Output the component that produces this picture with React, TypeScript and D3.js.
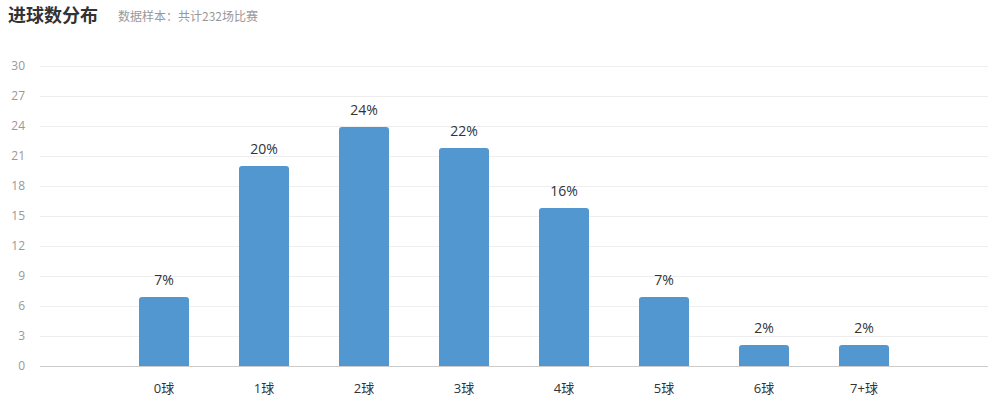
import React from "react";
import * as d3 from "d3";

const categories = ["0球", "1球", "2球", "3球", "4球", "5球", "6球", "7+球"];
const values = [6.9, 20.0, 23.9, 21.8, 15.8, 6.9, 2.1, 2.1];
const valueLabels = ["7%", "20%", "24%", "22%", "16%", "7%", "2%", "2%"];
const yTicks = [0, 3, 6, 9, 12, 15, 18, 21, 24, 27, 30];
const title = "进球数分布";
const subtitle = "数据样本：共计232场比赛";

const W = 995;
const H = 406;
const FONT = "'Noto Sans CJK SC', 'Open Sans', sans-serif";
const NUMFONT = "'Open Sans', 'Noto Sans CJK SC', sans-serif";

export default function App() {
  const x = d3.scaleBand<string>().domain(categories).range([114, 914]).paddingInner(0.5).paddingOuter(0.25);
  const y = d3.scaleLinear().domain([0, 30]).range([366, 66]);
  const r = 3;
  const barPath = (xv: number, w: number, top: number, bottom: number) => {
    const p = d3.path();
    p.moveTo(xv, bottom);
    p.lineTo(xv, top + r);
    p.quadraticCurveTo(xv, top, xv + r, top);
    p.lineTo(xv + w - r, top);
    p.quadraticCurveTo(xv + w, top, xv + w, top + r);
    p.lineTo(xv + w, bottom);
    p.closePath();
    return p.toString();
  };
  return (
    <svg width={W} height={H} style={{ position: "absolute", left: 0, top: 0, display: "block" }} fontFamily={FONT}>
      <rect width={W} height={H} fill="#fff" />
      <text x={8} y={22} fontSize={18} fontWeight="bold" fill="#333">{title}</text>
      <text x={118} y={21} fontSize={12} fill="#999">{subtitle}</text>
      {yTicks.map((t) => (
        <g key={t}>
          <line x1={40} x2={988} y1={Math.round(y(t)) + 0.5} y2={Math.round(y(t)) + 0.5} stroke={t === 0 ? "#ccc" : "#eee"} strokeWidth={1} />
          <text x={25} y={y(t) + 4} fontSize={12} fill="#999" textAnchor="end" fontFamily={NUMFONT}>{t}</text>
        </g>
      ))}
      {categories.map((c, i) => {
        const bx = x(c)!;
        const bw = x.bandwidth();
        const top = y(values[i]);
        return (
          <g key={c}>
            <path d={barPath(bx, bw, top, y(0))} fill="#5297cf" />
            <text x={bx + bw / 2} y={top - 12} fontSize={14} fill="#333" textAnchor="middle" fontFamily={NUMFONT}>{valueLabels[i]}</text>
            <text x={bx + bw / 2} y={393} fontSize={13} fill="#333" textAnchor="middle" fontFamily={NUMFONT}>{c}</text>
          </g>
        );
      })}
    </svg>
  );
}
